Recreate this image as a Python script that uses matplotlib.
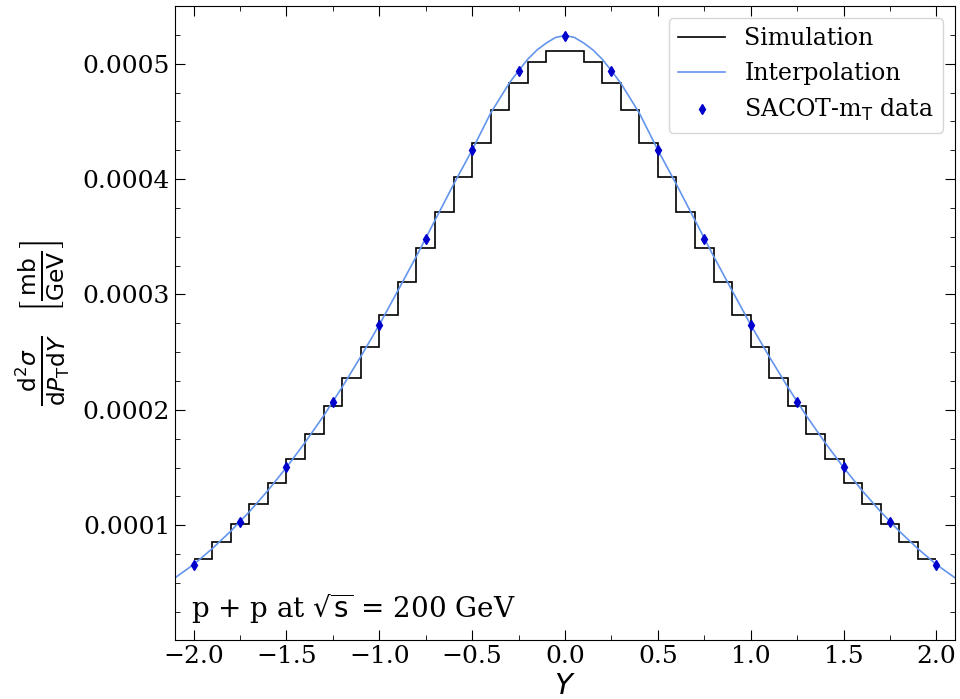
import numpy as np
import matplotlib
matplotlib.use("Agg")
import matplotlib.pyplot as plt
from matplotlib.ticker import AutoMinorLocator

# ---- data ----
bin_edges = np.round(np.arange(-2.0, 2.0001, 0.1), 2)
sim_values = [0.712, 0.855, 1.008, 1.182, 1.365, 1.574, 1.793, 2.032, 2.279, 2.543,
              2.822, 3.110, 3.407, 3.712, 4.014, 4.315, 4.595, 4.837, 5.011, 5.111,
              5.111, 5.011, 4.837, 4.595, 4.315, 4.014, 3.712, 3.407, 3.110, 2.822,
              2.543, 2.279, 2.032, 1.793, 1.574, 1.365, 1.182, 1.008, 0.855, 0.712]
sim_values = np.array(sim_values) * 1e-4

data_y = [-2.0, -1.75, -1.5, -1.25, -1.0, -0.75, -0.5, -0.25, 0.0,
          0.25, 0.5, 0.75, 1.0, 1.25, 1.5, 1.75, 2.0]
data_vals = [0.660, 1.031, 1.501, 2.070, 2.737, 3.483, 4.252, 4.939, 5.244,
             4.939, 4.252, 3.483, 2.737, 2.070, 1.501, 1.031, 0.660]
data_vals = np.array(data_vals) * 1e-4

curve_y = [-2.1, -2.0, -1.9, -1.8, -1.7, -1.6, -1.5, -1.4, -1.3, -1.2,
           -1.1, -1.0, -0.9, -0.8, -0.7, -0.6, -0.5, -0.4, -0.3, -0.25,
           -0.2, -0.15, -0.1, -0.05, 0.0, 0.05, 0.1, 0.15, 0.2, 0.25,
           0.3, 0.4, 0.5, 0.6, 0.7, 0.8, 0.9, 1.0, 1.1, 1.2,
           1.3, 1.4, 1.5, 1.6, 1.7, 1.8, 1.9, 2.0, 2.1]
curve_vals = [0.545, 0.660, 0.797, 0.949, 1.117, 1.301, 1.501, 1.717, 1.948, 2.197,
              2.461, 2.737, 3.033, 3.332, 3.643, 3.954, 4.252, 4.573, 4.832, 4.939,
              5.040, 5.120, 5.180, 5.228, 5.244, 5.228, 5.180, 5.120, 5.040, 4.939,
              4.832, 4.573, 4.252, 3.954, 3.643, 3.332, 3.033, 2.737, 2.461, 2.197,
              1.948, 1.717, 1.501, 1.301, 1.117, 0.949, 0.797, 0.660, 0.545]
curve_vals = np.array(curve_vals) * 1e-4

# ---- style ----
plt.rcParams['font.family'] = ['DejaVu Serif']
plt.rcParams['mathtext.fontset'] = 'dejavusans'

fig = plt.figure(figsize=(9.6, 6.99), dpi=100)
ax = fig.add_axes([175/960, 1-640/699, (955-175)/960, (640-6)/699])

ax.stairs(sim_values, bin_edges, color='black', lw=1.2, baseline=None, label='Simulation')
ax.plot(curve_y, curve_vals, color='cornflowerblue', lw=1.2, label='Interpolation')
ax.plot(data_y, data_vals, linestyle='none', marker='d', color='mediumblue',
        markersize=5.5, label=r'SACOT-m$_\mathrm{T}$ data')

ax.set_xlim(-2.1, 2.1)
ax.set_ylim(6e-7, 0.00055)
ax.set_xticks([-2.0, -1.5, -1.0, -0.5, 0.0, 0.5, 1.0, 1.5, 2.0])
ax.set_yticks([0.0001, 0.0002, 0.0003, 0.0004, 0.0005])
ax.set_yticklabels(['0.0001', '0.0002', '0.0003', '0.0004', '0.0005'])
ax.xaxis.set_minor_locator(AutoMinorLocator(2))
ax.yaxis.set_minor_locator(AutoMinorLocator(4))
ax.tick_params(which='both', direction='in', top=True, right=True, labelsize=18)
ax.tick_params(which='major', length=7)
ax.tick_params(which='minor', length=3.5)

ax.set_xlabel(r'$Y$', fontsize=21, labelpad=3)
ax.set_ylabel(r'$\frac{\mathrm{d}^2\sigma}{\mathrm{d}P_\mathrm{T}\mathrm{d}Y}$  $\left[\frac{\mathrm{mb}}{\mathrm{GeV}}\right]$',
              fontsize=24, labelpad=8)

ax.text(0.02, 0.022, r'p + p at $\sqrt{\mathrm{s}}$ = 200 GeV', transform=ax.transAxes,
        fontsize=20, ha='left', va='bottom')

ax.legend(loc='upper right', fontsize=17, frameon=True, handlelength=2.0)

fig.savefig('out.png', dpi=100)
